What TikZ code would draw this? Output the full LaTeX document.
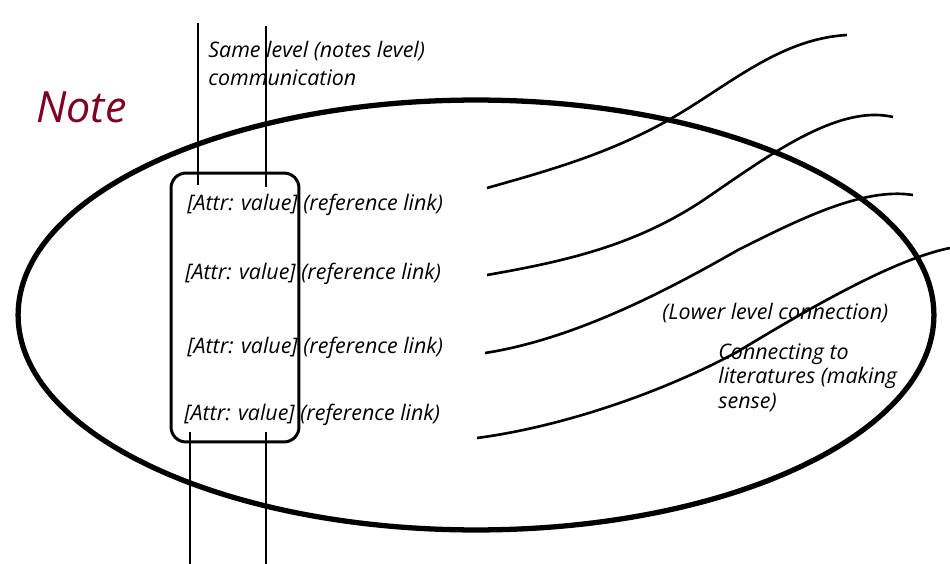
\documentclass[tikz,border=0pt]{standalone}
\usepackage{fontspec}
\setmainfont{Open Sans}
\usetikzlibrary{shapes.geometric}
\definecolor{notered}{RGB}{128,0,32}

\begin{document}
\begin{tikzpicture}[x=0.02cm, y=-0.02cm,
  txt/.style={font=\itshape\fontsize{12.2}{16}\selectfont, inner sep=0pt, align=left},
  wire/.style={line width=1.5pt}]
\useasboundingbox (0,0) rectangle (950,564);
\node [draw, ellipse, line width=3pt, inner sep=0pt, minimum width=18.32cm, minimum height=8.6cm] (note) at (476,315) {};
\node [draw, rounded corners=0.3cm, line width=1.7pt, minimum width=2.56cm, minimum height=5.38cm] (attrbox) at (235,307.5) {};
\node [right, inner sep=0pt, text=notered, font=\itshape\fontsize{24.5}{28}\selectfont] (title) at (36,107) {Note};
\node [right, txt] (row1) at (187,205) {[Attr: value] (reference link)};
\node [right, txt] (row2) at (185,274) {[Attr: value] (reference link)};
\node [right, txt] (row3) at (187,348) {[Attr: value] (reference link)};
\node [right, txt] (row4) at (184,415) {[Attr: value] (reference link)};
\node [below right, txt] (same) at (208,41) {Same level (notes level)\\communication};
\node [right, txt] (lower) at (662,313) {(Lower level connection)};
\node [below right, txt, font=\itshape\fontsize{12.2}{14}\selectfont] (lit) at (718,343) {Connecting to\\literatures (making\\sense)};
\coordinate (sameA) at (198,23);
\coordinate (sameAin) at (198,185);
\coordinate (sameB) at (266,26);
\coordinate (sameBin) at (266,187);
\coordinate (lowA) at (190,564);
\coordinate (lowAin) at (190,432);
\coordinate (lowB) at (266,564);
\coordinate (lowBin) at (266,432);
\draw [wire] (sameA) -- (sameAin);
\draw [wire] (sameB) -- (sameBin);
\draw [wire] (lowAin) -- (lowA);
\draw [wire] (lowBin) -- (lowB);
\coordinate (link1s) at (487,188);
\coordinate (link1m) at (665,122);
\coordinate (link1e) at (847,35);
\coordinate (link2s) at (487,275);
\coordinate (link2m) at (708,197);
\coordinate (link2e) at (893,117);
\coordinate (link3s) at (485,353);
\coordinate (link3m) at (738,250);
\coordinate (link3e) at (913,195);
\coordinate (link4s) at (477,438);
\coordinate (link4m) at (737,352);
\coordinate (link4e) at (950,248);
\draw [wire] (link1s) .. controls +(60,-17) and +(-60,33) .. (link1m) .. controls +(60,-33) and +(-70,4) .. (link1e);
\draw [wire] (link2s) .. controls +(80,-14) and +(-70,48) .. (link2m) .. controls +(60,-41) and +(-55,-13) .. (link2e);
\draw [wire] (link3s) .. controls +(90,-14) and +(-70,40) .. (link3m) .. controls +(60,-30) and +(-50,-8) .. (link3e);
\draw [wire] (link4s) .. controls +(90,-12) and +(-70,38) .. (link4m) .. controls +(60,-36) and +(-60,12) .. (link4e);
\end{tikzpicture}
\end{document}
